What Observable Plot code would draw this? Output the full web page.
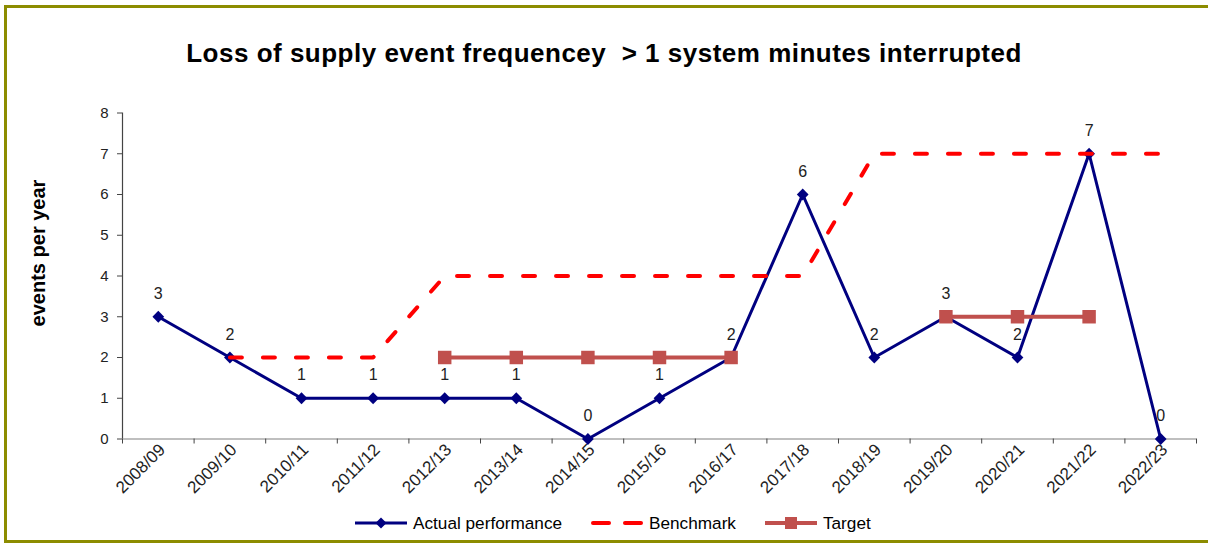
<!DOCTYPE html>
<html>
<head>
<meta charset="utf-8">
<script src="https://cdn.jsdelivr.net/npm/d3@7"></script>
<script src="https://cdn.jsdelivr.net/npm/@observablehq/plot@0.6"></script>
<style>
  html, body { margin: 0; padding: 0; background: #fff; overflow: hidden; width: 1208px; height: 547px; }
  body { font-family: "Liberation Sans", Arial, sans-serif; position: relative; }
  #frame { position: absolute; left: 4px; top: 5px; width: 1240px; height: 538px; box-sizing: border-box; border: 3px solid #8c8c00; }
  #title { position: absolute; left: 0; top: 40px; width: 1208px; text-align: center; font-weight: bold; font-size: 26px; line-height: 26px; letter-spacing: 0.5px; white-space: pre; color: #000; }
  #ylabel { position: absolute; left: 38px; top: 253px; transform: translate(-50%, -50%) rotate(-90deg); font-weight: bold; font-size: 20px; line-height: 20px; white-space: nowrap; color: #000; }
  #chart { position: absolute; left: 0; top: 80px; }
  #legend { position: absolute; left: 355px; top: 512px; height: 22px; display: flex; align-items: center; font-size: 17.2px; color: #000; white-space: nowrap; }
  .item { display: flex; align-items: center; margin-right: 29px; }
  .item svg { margin-right: 6px; }
</style>
</head>
<body>
<div id="frame"></div>
<div id="title"></div>
<div id="ylabel"></div>
<div id="chart"></div>
<div id="legend"></div>
<script>
const titleText = "Loss of supply event frequencey  > 1 system minutes interrupted";
const yLabel = "events per year";
const categories = ["2008/09","2009/10","2010/11","2011/12","2012/13","2013/14","2014/15","2015/16","2016/17","2017/18","2018/19","2019/20","2020/21","2021/22","2022/23"];
const actual    = [3, 2, 1, 1, 1, 1, 0, 1, 2, 6, 2, 3, 2, 7, 0];
const benchmark = [null, 2, 2, 2, 4, 4, 4, 4, 4, 4, 7, 7, 7, 7, 7];
const target    = [null, null, null, null, 2, 2, 2, 2, 2, null, null, 3, 3, 3, null];
const yTicks = [0, 1, 2, 3, 4, 5, 6, 7, 8];
const seriesNames = ["Actual performance", "Benchmark", "Target"];

const navy = "#000080", red = "#ff0000", brick = "#c0504d";

document.getElementById("title").textContent = titleText;
document.getElementById("ylabel").textContent = yLabel;

const rows = categories.map((c, i) => ({ i, c, actual: actual[i], benchmark: benchmark[i], target: target[i] }));
const idx = categories.map((c, i) => i);
const bounds = categories.map((c, i) => i - 0.5).concat([categories.length - 0.5]);

const chart = Plot.plot({
  width: 1208,
  height: 430,
  marginLeft: 122,
  marginRight: 12,
  marginTop: 32.5,
  marginBottom: 71.5,
  x: { type: "linear", domain: [-0.5, categories.length - 0.5] },
  y: { domain: [0, 8] },
  style: { fontFamily: "'Liberation Sans', Arial, sans-serif", background: "transparent", color: "#000", overflow: "visible" },
  marks: [
    Plot.ruleY([0], { stroke: "#808080", strokeWidth: 1.2 }),
    Plot.ruleX([-0.5], { stroke: "#444", strokeWidth: 1.2 }),
    Plot.axisY({ ticks: yTicks, tickSize: 5, tickPadding: 9, fontSize: 15, tickFormat: d => String(d), stroke: "#444", fill: "#222", label: null }),
    Plot.axisX({ ticks: bounds, tickSize: 5, tickFormat: () => "", stroke: "#444", label: null }),
    Plot.axisX({ ticks: idx, tickSize: 0, tickPadding: 0, tickFormat: i => categories[i], tickRotate: -45, fontSize: 17, fill: "#222", textAnchor: "end", dx: 4, dy: 8, label: null }),
    Plot.line(rows, { x: "i", y: "actual", stroke: navy, strokeWidth: 3 }),
    Plot.dot(rows, { x: "i", y: "actual", symbol: "diamond2", r: 5.3, fill: navy, stroke: null }),
    Plot.line(rows, { x: "i", y: "benchmark", stroke: red, strokeWidth: 4, strokeDasharray: "12,21", strokeLinecap: "round", strokeLinejoin: "round" }),
    Plot.line(rows, { x: "i", y: "target", stroke: brick, strokeWidth: 4 }),
    Plot.dot(rows.filter(d => d.target != null), { x: "i", y: "target", symbol: "square", r: 7.6, fill: brick, stroke: null }),
    Plot.text(rows, { x: "i", y: "actual", text: d => String(d.actual), dy: -23, fontSize: 16, fill: "#222" })
  ]
});
document.getElementById("chart").appendChild(chart);

// legend
const legend = document.getElementById("legend");
const swatches = [
  `<svg width="52" height="14"><line x1="0" y1="7" x2="52" y2="7" stroke="${navy}" stroke-width="3"/><path d="M26 1.5 L31.5 7 L26 12.5 L20.5 7 Z" fill="${navy}"/></svg>`,
  `<svg width="52" height="14"><line x1="2" y1="7" x2="18" y2="7" stroke="${red}" stroke-width="4" stroke-linecap="round"/><line x1="34" y1="7" x2="50" y2="7" stroke="${red}" stroke-width="4" stroke-linecap="round"/></svg>`,
  `<svg width="52" height="14"><line x1="0" y1="7" x2="52" y2="7" stroke="${brick}" stroke-width="4"/><rect x="20" y="1" width="12" height="12" fill="${brick}"/></svg>`
];
seriesNames.forEach((name, k) => {
  const it = document.createElement("div");
  it.className = "item";
  it.innerHTML = swatches[k] + `<span>${name}</span>`;
  legend.appendChild(it);
});
</script>
</body>
</html>
